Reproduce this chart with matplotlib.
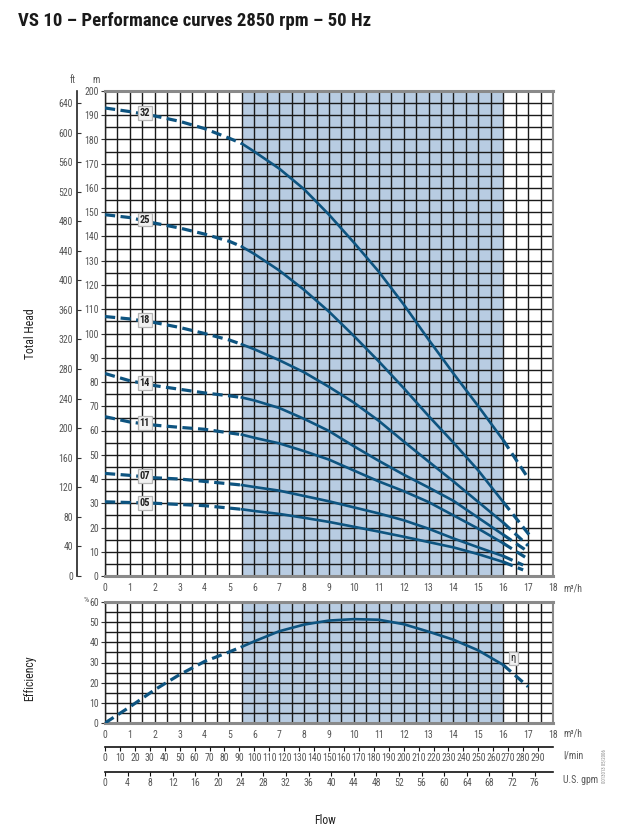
import numpy as np
import matplotlib
matplotlib.use('Agg')
import matplotlib.pyplot as plt
from matplotlib import font_manager as fm

avail = {f.name for f in fm.fontManager.ttflist}
COND = [f for f in ['Roboto Condensed', 'Liberation Sans Narrow', 'Open Sans Condensed',
                    'Liberation Sans'] if f in avail] + ['DejaVu Sans']
plt.rcParams['font.family'] = COND

# ---------------- data ----------------
title = "VS 10 \u2013 Performance curves 2850 rpm \u2013 50 Hz"
stages = ['32', '25', '18', '14', '11', '07', '05']
flow = [0, 1, 2, 3, 4, 5, 5.5, 6, 7, 8, 9, 10, 11, 12, 13, 14, 15, 16]
head_32 = [193, 191.5, 189.7, 187.5, 184.5, 180.5, 178.3, 175, 168, 159.5, 149, 137.5, 125.5, 112, 97.5, 83.5, 70, 56]
head_25 = [149, 147.8, 145.5, 143.5, 141, 138, 135.8, 132.8, 126, 118, 109, 99, 88.5, 77.5, 66, 55, 43.5, 30.5]
head_18 = [107, 106, 104.5, 102.5, 100, 97.3, 95.5, 93.5, 89, 84, 78, 71.5, 64, 55.5, 47.2, 39, 30.5, 22]
head_14 = [83.5, 80.5, 78.5, 77, 75.5, 74.3, 73.6, 72.4, 69.3, 64.8, 59.8, 53.5, 47.5, 41.8, 36.5, 31, 24, 17]
head_11 = [65.7, 63.5, 62.2, 61.3, 60.5, 59, 58.3, 57, 54.7, 51.5, 48, 43.5, 39, 35, 30.5, 25, 19.5, 13.5]
head_07 = [42.3, 41.5, 40.5, 40, 39, 38, 37.5, 36.7, 35.2, 33, 30.8, 28.3, 25.8, 23, 19.5, 15.5, 11.8, 8.2]
head_05 = [30.6, 30.3, 30, 29.5, 29, 28, 27.5, 26.8, 25.6, 24, 22.3, 20.3, 18.3, 16.2, 14, 11.8, 9, 5.8]
end_flow = [17.05, 17.05, 17.0, 17.0, 17.0, 16.8, 16.8]
end_head = [39.6, 16.9, 12.5, 10, 7, 4.5, 2.5]
label_flow = 1.6
label_head = [191, 147, 105.5, 79.5, 63, 41.2, 30.2]

eff_flow = [0, 1, 2, 3, 4, 5, 5.5, 6, 7, 8, 9, 10, 11, 12, 13, 14, 15, 16, 17]
eff = [0, 8, 16.5, 24, 30.5, 35.3, 37.8, 40.5, 45.5, 48.8, 50.8, 51.5, 51.2, 49, 45.3, 41.3, 36, 28.8, 18]
eff_label = (16.4, 32)

range_lo, range_hi = 5.5, 16

heads = [head_32, head_25, head_18, head_14, head_11, head_07, head_05]

# ---------------- style ----------------
W, H = 628, 838
CURVE = '#0e5480'
SHADE = '#b8cce2'
GRID = '#1a1a1a'
TXT = '#555555'
FS = 7
L, R = 105, 553

def rect(top, bottom):
    return [L / W, 1 - bottom / H, (R - L) / W, (bottom - top) / H]

fig = plt.figure(figsize=(W / 100, H / 100), dpi=100)


def style_grid_axes(a, ymax, ystep):
    a.set_xlim(0, 18)
    a.set_ylim(0, ymax)
    a.axvspan(range_lo, range_hi, color=SHADE, zorder=0, lw=0)
    a.set_xticks(np.arange(0, 19, 1))
    a.set_xticks(np.arange(0.5, 18, 1), minor=True)
    a.set_yticks(np.arange(0, ymax + 0.1, ystep * 2))
    a.set_yticks(np.arange(ystep, ymax, ystep * 2), minor=True)
    a.set_axisbelow(True)
    a.grid(which='both', color=GRID, lw=1.0)
    a.tick_params(axis='x', which='both', length=0, pad=5, labelsize=FS, labelcolor=TXT)
    a.tick_params(axis='y', which='major', length=3, width=0.8, pad=1.5,
                  labelsize=FS, labelcolor=TXT, color='#333333')
    a.tick_params(axis='y', which='minor', length=0)
    for s in ['top', 'bottom']:
        a.spines[s].set_color('#8a8a8a')
        a.spines[s].set_linewidth(2.2)
    a.spines['right'].set_color('#8a8a8a')
    a.spines['right'].set_linewidth(1.5)
    a.spines['left'].set_color('#222222')
    a.spines['left'].set_linewidth(1.0)


def draw_split(a, xs, ys, zorder=3):
    xs = np.asarray(xs, float)
    ys = np.asarray(ys, float)
    dash = (0, (3.2, 1.7))
    m1 = xs <= range_lo
    m2 = (xs >= range_lo) & (xs <= range_hi)
    m3 = xs >= range_hi
    a.plot(xs[m1], ys[m1], color=CURVE, lw=2.3, ls=dash, zorder=zorder, solid_capstyle='butt')
    a.plot(xs[m2], ys[m2], color=CURVE, lw=1.9, ls='-', zorder=zorder, solid_joinstyle='round')
    a.plot(xs[m3], ys[m3], color=CURVE, lw=2.3, ls=dash, zorder=zorder)


# ---- head chart ----
ax = fig.add_axes(rect(91, 576))
style_grid_axes(ax, 200, 5)
for st, hd, ef, eh, lh in zip(stages, heads, end_flow, end_head, label_head):
    draw_split(ax, flow + [ef], hd + [eh])
    ax.text(label_flow, lh, st, ha='center', va='center', fontsize=7.5, fontweight='bold',
            color='#222222', zorder=6,
            bbox=dict(boxstyle='square,pad=0.18', fc='#f1f1f1', ec='#b5b5b5', lw=0.9))

# ft axis
axf = ax.twinx()
axf.yaxis.set_ticks_position('left')
axf.spines['left'].set_position(('outward', 20))
for s in ['top', 'bottom', 'right']:
    axf.spines[s].set_visible(False)
axf.spines['left'].set_color('#222222')
axf.spines['left'].set_linewidth(1.2)
axf.set_ylim(0, 200 / 0.3048)
axf.set_yticks(np.arange(0, 641, 40))
axf.tick_params(axis='y', direction='in', length=3, width=0.8, pad=3,
                labelsize=FS, labelcolor=TXT, color='#333333')

fig.text(73 / W, 1 - 80 / H, 'ft', fontsize=FS, color=TXT, ha='center', va='center')
fig.text(96 / W, 1 - 80 / H, 'm', fontsize=FS, color=TXT, ha='center', va='center')
fig.text(563 / W, 1 - 588 / H, 'm\u00b3/h', fontsize=FS, color=TXT, ha='left', va='center')

# ---- efficiency chart ----
axe = fig.add_axes(rect(602, 723))
style_grid_axes(axe, 60, 5)
draw_split(axe, eff_flow, eff)
axe.text(eff_label[0], eff_label[1], '\u03b7', ha='center', va='center', fontsize=7.5,
         color='#222222', zorder=6,
         bbox=dict(boxstyle='square,pad=0.18', fc='#f1f1f1', ec='#b5b5b5', lw=0.9))
fig.text(86 / W, 1 - 600 / H, '%', fontsize=6, color=TXT, ha='center', va='center')
fig.text(563 / W, 1 - 733 / H, 'm\u00b3/h', fontsize=FS, color=TXT, ha='left', va='center')

# ---- secondary flow scales ----
def flow_scale(y_px, xmax, ticks, unit):
    a = fig.add_axes([L / W, 1 - y_px / H, (R - L) / W, 0.0001])
    a.patch.set_visible(False)
    a.set_xlim(0, xmax)
    a.set_xticks(ticks)
    a.set_yticks([])
    for s in ['top', 'left', 'right']:
        a.spines[s].set_visible(False)
    a.spines['bottom'].set_color('#111111')
    a.spines['bottom'].set_linewidth(1.2)
    a.tick_params(axis='x', direction='out', length=3, width=0.8, pad=1.5,
                  labelsize=FS, labelcolor=TXT, color='#111111')
    fig.text(563 / W, 1 - (y_px + 8) / H, unit, fontsize=FS, color=TXT, ha='left', va='center')

flow_scale(747, 300, np.arange(0, 291, 10), 'l/min')
flow_scale(772, 18 * 4.402868, np.arange(0, 77, 4), 'U.S. gpm')

# ---- titles ----
fig.text(18 / W, 1 - 21 / H, title, fontsize=13.5, fontweight='bold', color='#1a1a1a',
         ha='left', va='center')
fig.text(30 / W, 1 - 334 / H, 'Total Head', rotation=90, fontsize=8.5, color='#222222',
         ha='center', va='center')
fig.text(30 / W, 1 - 678 / H, 'Efficiency', rotation=90, fontsize=8.5, color='#222222',
         ha='center', va='center')
fig.text(325 / W, 1 - 820 / H, 'Flow', fontsize=8.5, color='#222222', ha='center', va='center')
fig.text(604 / W, 1 - 766 / H, '0013013 05/2006', rotation=90, fontsize=3.5, color='#888888',
         ha='center', va='center')

fig.savefig('out.png', dpi=100)
